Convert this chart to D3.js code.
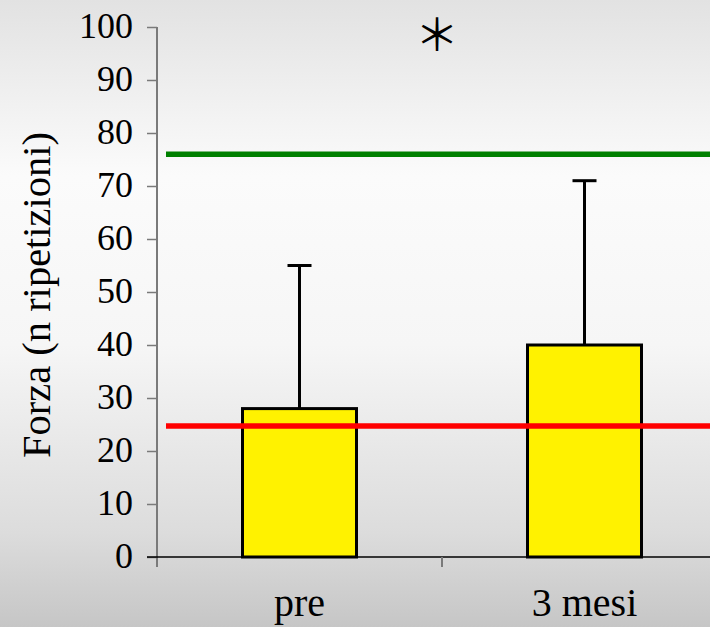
<!DOCTYPE html>
<html>
<head>
<meta charset="utf-8">
<script src="https://cdn.jsdelivr.net/npm/d3@7"></script>
<style>
  html, body { margin: 0; padding: 0; background: #ffffff; }
  svg { display: block; }
</style>
</head>
<body>
<svg id="chart" width="710" height="627" style="font-family: 'Liberation Serif', 'Times New Roman', serif;"></svg>
<script>
// Strength before and three months after, mean with SD bar
const categories = ["pre", "3 mesi"];
const means = [28, 40];
const upperErrors = [55, 71];
const referenceLow = 24.7;   // red reference line
const referenceHigh = 76;    // green reference line
const yTicks = [0, 10, 20, 30, 40, 50, 60, 70, 80, 90, 100];
const yTitle = "Forza (n ripetizioni)";
const significance = "＊";

const W = 710, H = 627;
const SERIF = "'Liberation Serif', 'Times New Roman', serif";
const svg = d3.select("#chart");

// slide-style vertical gradient background
const defs = svg.append("defs");
const grad = defs.append("linearGradient")
  .attr("id", "bg").attr("x1", 0).attr("y1", 0).attr("x2", 0).attr("y2", 1);
[[0, "#e2e2e2"], [0.28, "#fbfbfb"], [0.55, "#f6f6f6"], [0.85, "#dcdcdc"], [1, "#c6c6c6"]]
  .forEach(([o, c]) => grad.append("stop").attr("offset", o).attr("stop-color", c));
svg.append("rect").attr("width", W).attr("height", H).attr("fill", "url(#bg)");

const x0 = 157, x1 = 727;
const x = d3.scaleBand().domain(categories).range([x0, x1]).padding(0);
const y = d3.scaleLinear().domain([0, 100]).range([557, 27]);
const barW = x.bandwidth() * 0.4;

// y axis
const yAxis = svg.append("g")
  .attr("transform", `translate(${x0},0)`)
  .call(d3.axisLeft(y).tickValues(yTicks).tickSize(10).tickPadding(14).tickFormat(d3.format("d")));
yAxis.attr("font-family", SERIF).attr("font-size", 36);
yAxis.select(".domain").remove();
yAxis.selectAll(".tick line").attr("stroke", "#7a7a7a").attr("stroke-width", 1.5);
yAxis.selectAll(".tick text")
  .style("font-family", SERIF)
  .style("font-size", "36px").attr("fill", "#000")
  .attr("dy", "0.3em");
svg.append("line")
  .attr("x1", x0).attr("x2", x0).attr("y1", y(100)).attr("y2", y(0) + 10)
  .attr("stroke", "#7a7a7a").attr("stroke-width", 2);

// x baseline and category boundary ticks
svg.append("line")
  .attr("x1", x0 - 10).attr("x2", W).attr("y1", y(0)).attr("y2", y(0))
  .attr("stroke", "#000").attr("stroke-width", 1.5);
svg.selectAll("line.bound")
  .data(categories.slice(1))
  .join("line").attr("class", "bound")
  .attr("x1", d => x(d)).attr("x2", d => x(d))
  .attr("y1", y(0)).attr("y2", y(0) + 10)
  .attr("stroke", "#7a7a7a").attr("stroke-width", 2);

// category labels
svg.selectAll("text.cat")
  .data(categories)
  .join("text").attr("class", "cat")
  .attr("x", d => x(d) + x.bandwidth() / 2)
  .attr("y", 616)
  .attr("text-anchor", "middle")
  .style("font-family", SERIF)
  .style("font-size", "40px").attr("fill", "#000")
  .text(d => d);

// error bars (upper only)
const data = categories.map((c, i) => ({ c, m: means[i], u: upperErrors[i] }));
svg.selectAll("line.err")
  .data(data)
  .join("line").attr("class", "err")
  .attr("x1", d => x(d.c) + x.bandwidth() / 2).attr("x2", d => x(d.c) + x.bandwidth() / 2)
  .attr("y1", d => y(d.m)).attr("y2", d => y(d.u))
  .attr("stroke", "#000").attr("stroke-width", 3);
svg.selectAll("line.cap")
  .data(data)
  .join("line").attr("class", "cap")
  .attr("x1", d => x(d.c) + x.bandwidth() / 2 - 12).attr("x2", d => x(d.c) + x.bandwidth() / 2 + 12)
  .attr("y1", d => y(d.u)).attr("y2", d => y(d.u))
  .attr("stroke", "#000").attr("stroke-width", 3);

// bars
svg.selectAll("rect.bar")
  .data(data)
  .join("rect").attr("class", "bar")
  .attr("x", d => x(d.c) + (x.bandwidth() - barW) / 2)
  .attr("width", barW)
  .attr("y", d => y(d.m))
  .attr("height", d => y(0) - y(d.m))
  .attr("fill", "#fff200").attr("stroke", "#000").attr("stroke-width", 3);

// reference lines
svg.append("line")
  .attr("x1", 166).attr("x2", W).attr("y1", y(referenceLow)).attr("y2", y(referenceLow))
  .attr("stroke", "#ff0000").attr("stroke-width", 5.5);
svg.append("line")
  .attr("x1", 166).attr("x2", W).attr("y1", y(referenceHigh)).attr("y2", y(referenceHigh))
  .attr("stroke", "#008000").attr("stroke-width", 5.5);

// y axis title
svg.append("text")
  .attr("transform", "translate(50,295) rotate(-90)")
  .attr("text-anchor", "middle")
  .style("font-family", SERIF)
  .style("font-size", "40.5px").attr("fill", "#000")
  .text(yTitle);

// significance marker
svg.append("text")
  .attr("x", 437).attr("y", 32)
  .attr("text-anchor", "middle")
  .attr("dominant-baseline", "central")
  .style("font-family", "'Noto Sans CJK JP', sans-serif")
  .style("font-size", "44px").attr("fill", "#000")
  .text(significance);
</script>
</body>
</html>
